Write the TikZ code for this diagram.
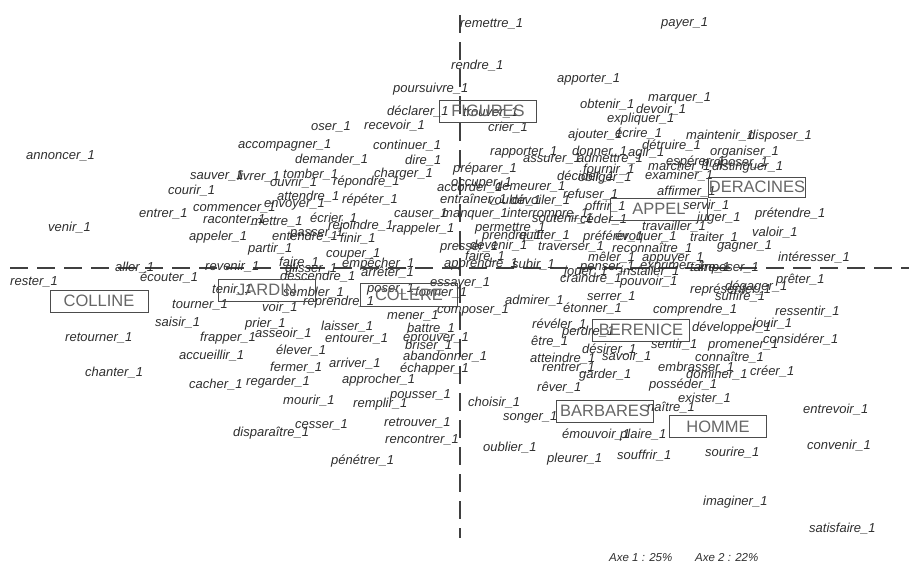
\documentclass[tikz,border=0pt]{standalone}
\usepackage{fontspec}
\setmainfont{Liberation Sans}
\usepackage{tikz}
\usetikzlibrary{positioning}
\definecolor{txtgray}{rgb}{0.18,0.18,0.18}
\definecolor{boxgray}{rgb}{0.4,0.4,0.4}

\begin{document}
\begin{tikzpicture}[
            x = 1pt, y = -1pt, % pixel units, y down
            verb/.style = {anchor = west, inner sep = 0pt, text = txtgray,
                font = \fontsize{13}{14}\selectfont\itshape,
                text height = 9pt, text depth = 2.5pt},
            axis/.style = {black!75, line width = 1.1pt, dash pattern = on 18pt off 9pt}
        ]

        \tikzstyle{class}=[
            draw = black!70,
            line width = 0.8pt,
            text = boxgray,
            font = \fontsize{16.5}{18}\selectfont,
            minimum width = 97pt,
            minimum height = 22pt,
            inner sep = 0pt
        ]

        \useasboundingbox (0,0) rectangle (909,565);

        % axes
        \coordinate (H1) at (10,268);
        \coordinate (H2) at (909,268);
        \coordinate (V1) at (460,15);
        \coordinate (V2) at (460,538);
        \draw[axis] (H1) -- (H2);
        \draw[axis] (V1) -- (V2);

        % verbs
        \foreach \x/\y/\w [count=\i] in {
            460/24/remettre, 661/23/payer, 451/66/rendre, 557/79/apporter,
            393/89/poursuivre, 648/98/marquer, 580/105/obtenir, 636/110/devoir,
            387/112/déclarer, 463/113/trouver, 607/119/expliquer, 311/127/oser,
            364/126/recevoir, 488/128/crier, 568/135/ajouter, 615/134/écrire,
            686/136/maintenir, 748/136/disposer, 238/145/accompagner, 373/146/continuer,
            642/146/détruire, 710/152/organiser, 490/152/rapporter, 572/152/donner,
            628/153/agir, 26/156/annoncer, 523/159/assurer, 577/159/admettre,
            295/160/demander, 405/161/dire, 666/162/espérer, 702/163/proposer,
            648/167/marcher, 712/167/distinguer, 453/169/préparer, 583/170/fournir,
            557/177/décider, 578/178/obliger, 645/176/examiner, 190/176/sauver,
            237/177/livrer, 283/175/tomber, 374/174/charger, 270/183/ouvrir,
            333/182/répondre, 451/183/occuper, 437/188/accorder, 495/187/demeurer,
            168/191/courir, 657/192/affirmer, 563/195/refuser, 277/197/attendre,
            342/200/répéter, 440/200/entraîner, 488/201/vouloir, 510/201/dévoiler,
            683/206/servir, 585/207/offrir, 264/204/envoyer, 193/208/commencer,
            755/214/prétendre, 394/214/causer, 442/214/manquer, 507/214/interrompre,
            139/214/entrer, 310/219/écrier, 697/218/juger, 203/220/raconter,
            251/222/mettre, 532/219/soutenir, 580/220/céder, 328/226/rejoindre,
            642/227/travailler, 48/228/venir, 392/229/rappeler, 475/228/permettre,
            752/233/valoir, 189/237/appeler, 272/237/entendre, 290/233/passer,
            340/239/finir, 482/236/prendre, 519/236/quitter, 583/237/préférer,
            615/237/évoquer, 690/238/traiter, 440/247/presser, 470/246/devenir,
            538/247/traverser, 612/249/reconnaître, 717/246/gagner, 248/249/partir,
            326/254/couper, 588/258/mêler, 642/258/appuyer, 465/257/faire,
            778/258/intéresser, 279/263/faire, 342/264/empêcher, 444/264/apprendre,
            512/265/subir, 640/266/exprimer, 580/267/penser, 564/272/jouer,
            115/268/aller, 205/267/revenir, 285/269/glisser, 620/272/installer,
            690/268/taire, 698/268/imposer, 361/273/arrêter, 280/277/descendre,
            140/278/écouter, 560/279/craindre, 620/282/pouvoir, 776/280/prêter,
            10/282/rester, 212/290/tenir, 367/289/poser, 430/283/essayer,
            690/290/représenter, 725/287/dégager, 283/293/sembler, 415/293/former,
            715/297/suffire, 587/297/serrer, 505/301/admirer, 303/302/reprendre,
            172/305/tourner, 262/308/voir, 563/309/étonner, 653/310/comprendre,
            437/310/composer, 775/312/ressentir, 387/316/mener, 155/323/saisir,
            753/324/jouir, 245/324/prier, 532/325/révéler, 692/328/développer,
            321/327/laisser, 407/329/battre, 562/332/perdre, 255/334/asseoir,
            200/338/frapper, 403/338/éprouver, 65/338/retourner, 325/339/entourer,
            763/340/considérer, 531/342/être, 651/345/sentir, 708/345/promener,
            405/346/briser, 582/350/désirer, 276/351/élever, 179/356/accueillir,
            403/357/abandonner, 602/357/savoir, 530/359/atteindre, 695/358/connaître,
            329/364/arriver, 270/368/fermer, 542/368/rentrer, 400/369/échapper,
            85/373/chanter, 579/375/garder, 658/368/embrasser, 750/372/créer,
            686/375/dominer, 342/380/approcher, 246/382/regarder, 649/385/posséder,
            189/385/cacher, 537/388/rêver, 390/395/pousser, 283/401/mourir,
            678/399/exister, 468/403/choisir, 353/404/remplir, 647/408/naître,
            803/410/entrevoir, 503/417/songer, 295/425/cesser, 384/423/retrouver,
            233/433/disparaître, 562/435/émouvoir, 620/435/plaire, 385/440/rencontrer,
            483/448/oublier, 807/446/convenir, 705/453/sourire, 617/456/souffrir,
            547/459/pleurer, 331/461/pénétrer, 703/502/imaginer, 809/529/satisfaire}
            \node[verb] (v\i) at (\x,\y) {\w\_1};

        % classes
        \node[class, minimum width = 98pt] (COLLINE) at (99,301) {COLLINE};
        \node[class] (JARDIN) at (267,290) {JARDIN};
        \node[class, minimum height = 23pt] (COLERE) at (409,295) {COLERE};
        \node[class] (FIGURES) at (488,111) {FIGURES};
        \node[class, minimum height = 20pt] (DERACINES) at (757,187) {DERACINES};
        \node[class] (APPEL) at (659,209) {APPEL};
        \node[class] (BERENICE) at (641,330) {BERENICE};
        \node[class] (BARBARES) at (605,411) {BARBARES};
        \node[class] (HOMME) at (718,426.5) {HOMME};

        % inertia
        \node[verb, font = \fontsize{11.5}{13}\selectfont\itshape] (AXE1) at (609,558) {Axe 1 : 25\%};
        \node[verb, font = \fontsize{11.5}{13}\selectfont\itshape] (AXE2) at (695,558) {Axe 2 : 22\%};

\end{tikzpicture}
\end{document}
